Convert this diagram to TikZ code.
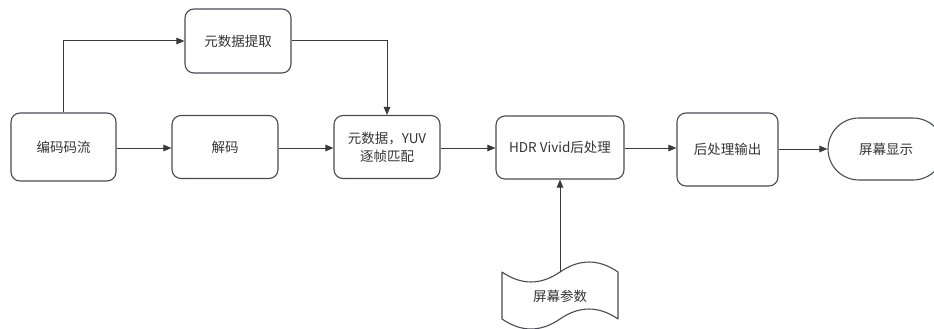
\documentclass[tikz,border=0pt]{standalone}
\usepackage{fontspec}
\setmainfont{Noto Sans CJK SC}
\usetikzlibrary{arrows.meta,calc}
\definecolor{linec}{HTML}{3A3A3A}
\definecolor{boxc}{HTML}{4A4A55}
\definecolor{txtc}{HTML}{333333}
\tikzset{
  box/.style={draw=boxc, line width=1.1pt, rounded corners=9pt, align=center,
    text=txtc, font=\fontsize{13.5pt}{18pt}\selectfont, inner sep=0pt},
  conn/.style={draw=linec, line width=1pt, -{Triangle[length=8pt,width=6.5pt]}},
}
\begin{document}
\begin{tikzpicture}[x=1pt,y=-1pt]
\useasboundingbox (0,0) rectangle (934,329);
\node[box, minimum width=105pt, minimum height=68pt] (bm) at (63.5,147) {编码码流};
\node[box, minimum width=106pt, minimum height=64pt] (tq) at (238,41) {元数据提取};
\node[box, minimum width=106pt, minimum height=63pt] (jm) at (225,147) {解码};
\node[box, minimum width=106pt, minimum height=63pt] (pp) at (387,147) {元数据，YUV\\逐帧匹配};
\node[box, minimum width=128pt, minimum height=63pt] (hdr) at (560,147.5) {HDR Vivid后处理};
\node[box, minimum width=101pt, minimum height=73pt] (hcl) at (727.5,149.5) {后处理输出};
\node[box, rounded corners=31pt, minimum width=116pt, minimum height=62pt] (sc) at (886,149) {屏幕显示};
% tape shape
\draw[draw=boxc, line width=1.1pt, line join=round]
  (502,272) .. controls (521.3,285.3) and (540.7,285.3) .. (560,272)
  .. controls (579.3,258.7) and (598.7,258.7) .. (618,272)
  -- (618,319)
  .. controls (598.7,305.7) and (579.3,305.7) .. (560,319)
  .. controls (540.7,332.3) and (521.3,332.3) .. (502,319) -- cycle;
\node[text=txtc, font=\fontsize{13.5pt}{18pt}\selectfont, inner sep=0pt] (sp) at (560,296) {屏幕参数};
\coordinate (sptop) at (560,272);
% connectors
\draw[conn] (bm.east |- 0,148) -- (jm.west |- 0,148);
\draw[conn] (jm.east |- 0,148) -- (pp.west |- 0,148);
\draw[conn] (pp.east |- 0,148) -- (hdr.west |- 0,148);
\draw[conn] (hdr.east |- 0,148) -- (hcl.west |- 0,148);
\draw[conn] (hcl.east |- 0,149) -- (sc.west |- 0,149);
\draw[conn] (bm.north) |- (tq.west);
\draw[conn] (tq.east) -| (pp.north);
\draw[conn] (sptop) -- (hdr.south);
\end{tikzpicture}
\end{document}
